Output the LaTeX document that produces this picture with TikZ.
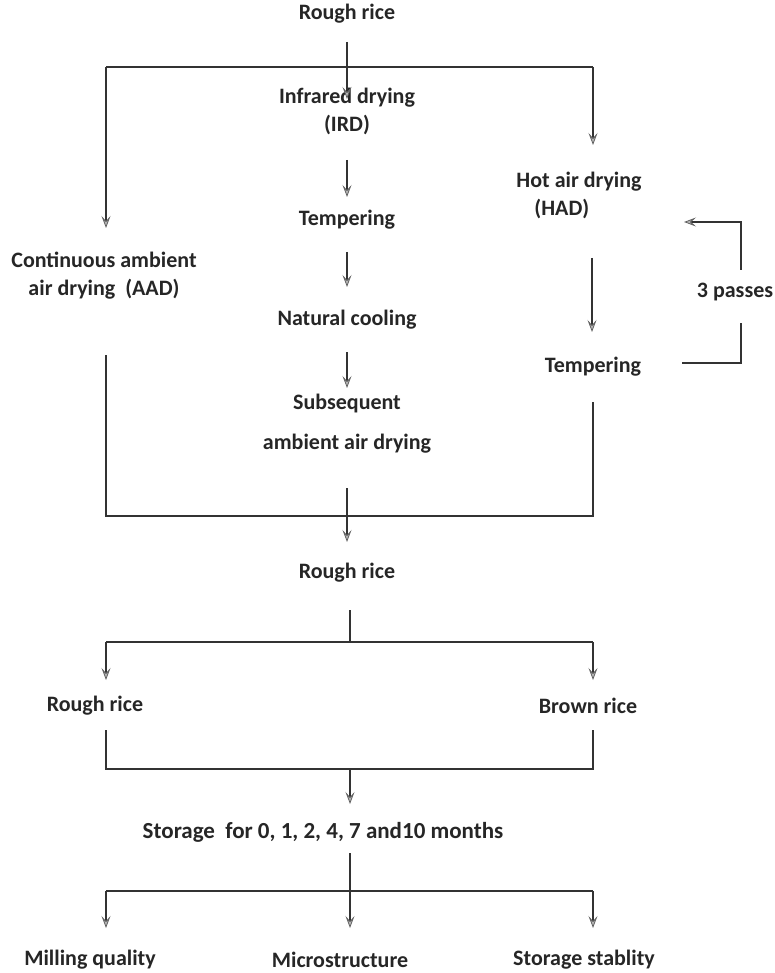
\documentclass[tikz,border=0pt]{standalone}
\usepackage{fontspec}
\setmainfont{Carlito}
\usetikzlibrary{arrows.meta}
\begin{document}
\begin{tikzpicture}[x=1pt,y=-1pt,
  lbl/.style={inner sep=0pt, font=\fontsize{22}{28}\selectfont\bfseries, text=black!85, align=center},
  ln/.style={draw=black!80, line width=1.3pt},
  arr/.style={ln, -{Stealth[length=12pt,width=9pt,inset=5pt,color=gray!75!black,fill=gray!55,line width=0.8pt]}}]
\useasboundingbox (0,0) rectangle (775,973);

% labels
\node[lbl] (t1) at (347,14) {Rough rice};
\node[lbl] (ird) at (347,111) {Infrared drying\\(IRD)};
\node[lbl] (temp1) at (347,220) {Tempering};
\node[lbl] (cool) at (347,320) {Natural cooling};
\node[lbl] (subs) at (347,424) {Subsequent\\[12pt]ambient air drying};
\node[lbl] (aad) at (104,276) {Continuous ambient\\air drying\ \ (AAD)};
\node[lbl, align=left] (had) at (579,195) {Hot air drying\\\hspace{18pt}(HAD)};
\node[lbl] (temp2) at (593,367) {Tempering};
\node[lbl] (pass) at (735,292) {3 passes};
\node[lbl] (rr2) at (347,573) {Rough rice};
\node[lbl] (rr3) at (95,706) {Rough rice};
\node[lbl] (brown) at (588,706) {Brown rice};
\node[lbl, font=\fontsize{23}{28}\selectfont\bfseries] (stor) at (323,832) {Storage\hspace{0.45em}for 0, 1, 2, 4, 7 and10 months};
\node[lbl] (mq) at (90,960) {Milling quality};
\node[lbl] (micro) at (340,960) {Microstructure};
\node[lbl] (ss) at (584,960) {Storage stablity};

% junction / end coordinates
\coordinate (a0) at (347,42);  \coordinate (a1) at (347,99);
\coordinate (hL) at (106,67);  \coordinate (hR) at (593,67);
\coordinate (aL) at (106,228); \coordinate (aR) at (593,145);
\coordinate (b0) at (347,160); \coordinate (b1) at (347,197);
\coordinate (c0) at (347,252); \coordinate (c1) at (347,287);
\coordinate (d0) at (347,352); \coordinate (d1) at (347,388);
\coordinate (e0) at (106,355); \coordinate (e1) at (106,516);
\coordinate (f0) at (593,402); \coordinate (f1) at (593,516);
\coordinate (g0) at (347,488); \coordinate (g1) at (347,542);
\coordinate (h0) at (592,258); \coordinate (h1) at (592,332);
\coordinate (p0) at (682,363); \coordinate (p1) at (741,363); \coordinate (p2) at (741,323);
\coordinate (q0) at (741,270); \coordinate (q1) at (741,222); \coordinate (q2) at (684,222);
\coordinate (k0) at (350,610); \coordinate (k1) at (350,642);
\coordinate (kL) at (106,642); \coordinate (kR) at (593,642);
\coordinate (kLa) at (106,680); \coordinate (kRa) at (593,680);
\coordinate (mL) at (106,730); \coordinate (mR) at (593,730);
\coordinate (nL) at (106,769); \coordinate (nR) at (593,769);
\coordinate (n0) at (350,769); \coordinate (n1) at (350,804);
\coordinate (s0) at (350,853); \coordinate (s1) at (350,928);
\coordinate (sL) at (106,891); \coordinate (sR) at (593,891);
\coordinate (sLa) at (106,928); \coordinate (sRa) at (593,928);

% connectors
\draw[arr] (a0) -- (a1);
\draw[ln] (hL) -- (hR);
\draw[arr] (hL) -- (aL);
\draw[arr] (hR) -- (aR);
\draw[arr] (b0) -- (b1);
\draw[arr] (c0) -- (c1);
\draw[arr] (d0) -- (d1);
\draw[ln] (e0) -- (e1) -- (f1) -- (f0);
\draw[arr] (g0) -- (g1);
\draw[arr] (h0) -- (h1);
\draw[ln] (p0) -- (p1) -- (p2);
\draw[arr] (q0) -- (q1) -- (q2);
\draw[ln] (k0) -- (k1);
\draw[ln] (kL) -- (kR);
\draw[arr] (kL) -- (kLa);
\draw[arr] (kR) -- (kRa);
\draw[ln] (mL) -- (nL) -- (nR) -- (mR);
\draw[arr] (n0) -- (n1);
\draw[arr] (s0) -- (s1);
\draw[ln] (sL) -- (sR);
\draw[arr] (sL) -- (sLa);
\draw[arr] (sR) -- (sRa);
\end{tikzpicture}
\end{document}
